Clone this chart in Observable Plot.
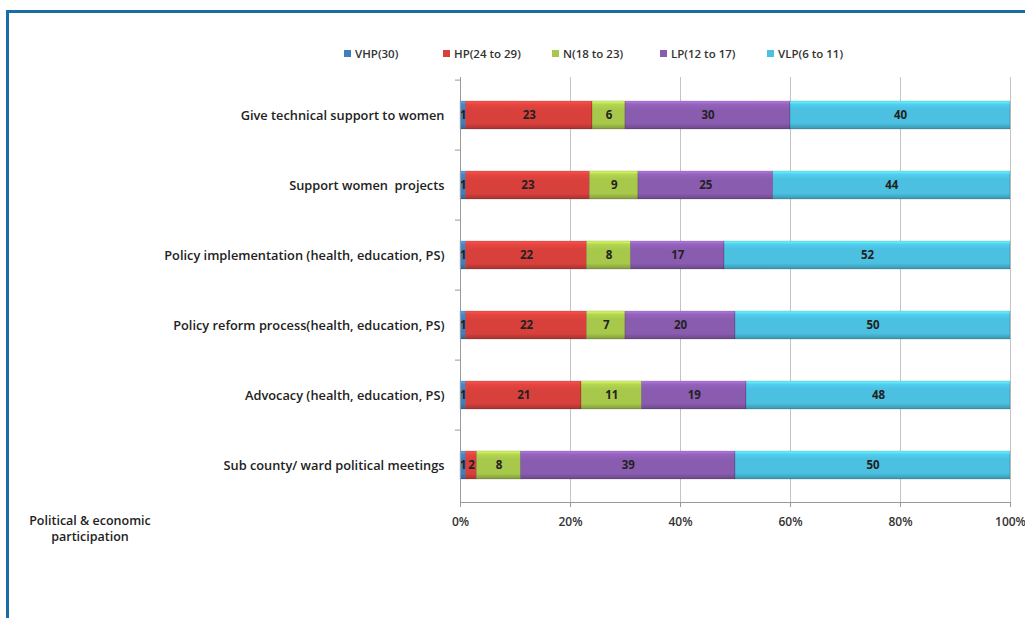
<!DOCTYPE html>
<html>
<head>
<meta charset="utf-8">
<script src="https://cdn.jsdelivr.net/npm/d3@7"></script>
<script src="https://cdn.jsdelivr.net/npm/@observablehq/plot@0.6"></script>
<style>
  html, body { margin: 0; padding: 0; background: #fff; }
  #wrap { position: relative; width: 1025px; height: 618px; overflow: hidden; font-family: "Open Sans", sans-serif; font-weight: 600; color: #333; }
  .frame-top { position: absolute; left: 6px; top: 10px; width: 1019px; height: 3px; background: #1b6ba6; }
  .frame-left { position: absolute; left: 6px; top: 10px; width: 3px; height: 608px; background: #1b6ba6; }
  #legend { position: absolute; top: 46px; left: 0; width: 1025px; height: 18px; font-size: 11.5px; }
  .li { position: absolute; display: flex; align-items: center; white-space: nowrap; }
  .sw { width: 7px; height: 7px; margin-right: 4px; }
  #chart { position: absolute; left: 0; top: 67px; }
  #ylab { position: absolute; left: 15px; top: 513px; width: 150px; text-align: center; font-size: 12.5px; line-height: 16px; color: #222; }
</style>
</head>
<body>
<div id="wrap">
  <div class="frame-top"></div>
  <div class="frame-left"></div>
  <div id="legend"></div>
  <div id="chart"></div>
  <div id="ylab">Political &amp; economic<br>participation</div>
</div>
<script>
const categories = [
  "Give technical support to women",
  "Support women  projects",
  "Policy implementation (health, education, PS)",
  "Policy reform process(health, education, PS)",
  "Advocacy (health, education, PS)",
  "Sub county/ ward political meetings"
];
const series = ["VHP(30)", "HP(24 to 29)", "N(18 to 23)", "LP(12 to 17)", "VLP(6 to 11)"];
const vhp = [1, 1, 1, 1, 1, 1];
const hp  = [23, 23, 22, 22, 21, 2];
const nn  = [6, 9, 8, 7, 11, 8];
const lp  = [30, 25, 17, 20, 19, 39];
const vlp = [40, 44, 52, 50, 48, 50];
const xTicks = [0, 0.2, 0.4, 0.6, 0.8, 1];

const seriesValues = [vhp, hp, nn, lp, vlp];
const baseColors = ["#3f7fc0", "#d8403c", "#a7c84a", "#8a5cb0", "#4bc0e0"];
const gradIds = ["gVHP", "gHP", "gN", "gLP", "gVLP"];

const data = [];
categories.forEach((c, i) => {
  series.forEach((s, j) => {
    data.push({cat: c, series: s, value: seriesValues[j][i]});
  });
});

// Legend
const legend = document.getElementById("legend");
const legendX = [344, 443, 552, 660, 767];
series.forEach((s, j) => {
  const d = document.createElement("div");
  d.className = "li";
  d.style.left = legendX[j] + "px";
  d.innerHTML = `<span class="sw" style="background:${baseColors[j]}"></span><span>${s}</span>`;
  legend.appendChild(d);
});

const plot = Plot.plot({
  width: 1025,
  height: 480,
  marginTop: 10,
  marginBottom: 45,
  marginLeft: 460,
  marginRight: 15,
  style: {fontFamily: "Open Sans, sans-serif", fontWeight: 600, fontSize: "11px", color: "#222"},
  x: {domain: [0, 1]},
  y: {domain: categories, paddingInner: 0.6, paddingOuter: 0.3},
  color: {domain: series, range: gradIds.map(id => `url(#${id})`)},
  marks: [
    Plot.gridX(xTicks, {stroke: "#c4c4c4", strokeOpacity: 1}),
    Plot.barX(data, Plot.stackX({
      offset: "normalize", x: "value", y: "cat", z: "series", fill: "series",
      stroke: "rgba(0,0,0,0.25)", strokeWidth: 0.6
    })),
    Plot.text(data, Plot.stackX({
      offset: "normalize", x: "value", y: "cat", z: "series", text: "value",
      fill: "#222", fontSize: 11.5, fontWeight: 700
    })),
    Plot.frame({anchor: "bottom", stroke: "#999"}),
    Plot.frame({anchor: "left", stroke: "#999"}),
    Plot.axisX({ticks: xTicks, tickFormat: d => Math.round(d * 100) + "%", tickSize: 5, tickPadding: 10, stroke: "#999", fill: "#333", fontSize: 12, label: null}),
    Plot.axisY({tickSize: 0, tickPadding: 16, fill: "#222", fontSize: 12.8, label: null}),
    Plot.axisY({tickSize: 5, text: null, dy: -35.4, stroke: "#999", label: null})
  ]
});

// gradient defs for bevelled bars
const svg = d3.select(plot);
const defs = svg.insert("defs", ":first-child");
baseColors.forEach((c, j) => {
  const g = defs.append("linearGradient").attr("id", gradIds[j])
    .attr("x1", 0).attr("y1", 0).attr("x2", 0).attr("y2", 1);
  const col = d3.color(c);
  g.append("stop").attr("offset", "0%").attr("stop-color", col.brighter(0.8));
  g.append("stop").attr("offset", "12%").attr("stop-color", col.brighter(0.2));
  g.append("stop").attr("offset", "30%").attr("stop-color", c);
  g.append("stop").attr("offset", "80%").attr("stop-color", c);
  g.append("stop").attr("offset", "100%").attr("stop-color", col.darker(0.7));
});

document.getElementById("chart").appendChild(plot);
</script>
</body>
</html>
